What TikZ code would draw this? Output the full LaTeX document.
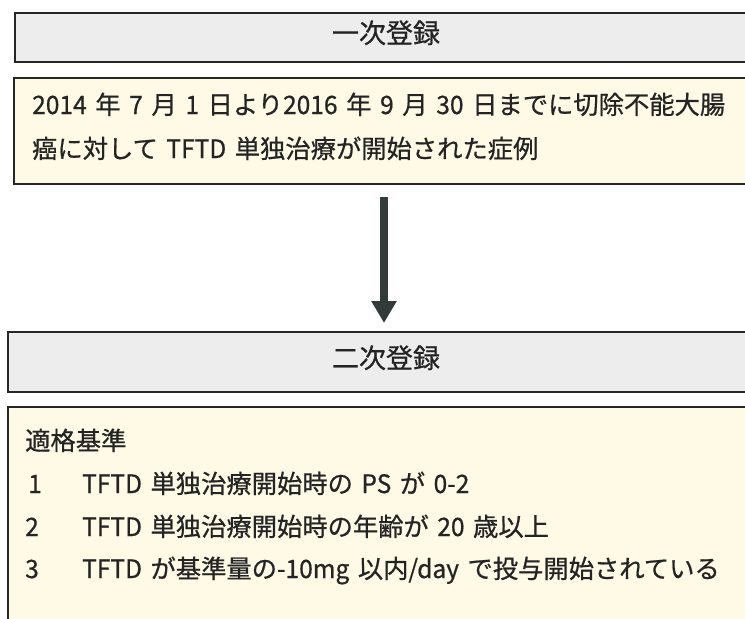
\documentclass[tikz,border=0pt]{standalone}
\usepackage{fontspec}
\setmainfont[FakeBold=0.7,WordSpace=1.5]{Noto Sans CJK JP}
\newfontfamily\latinfont[FakeBold=0.7,FakeStretch=0.97,WordSpace=1.5]{Noto Sans CJK JP}
\newcommand\lat[1]{{\latinfont #1}}
\usetikzlibrary{arrows.meta}
\definecolor{boxgray}{HTML}{EDEDED}
\definecolor{boxcream}{HTML}{FEFAE6}
\definecolor{edge}{HTML}{262626}
\definecolor{arrowc}{HTML}{333B3A}
\definecolor{txt}{HTML}{242424}
\begin{document}
\begin{tikzpicture}[x=1pt,y=-1pt,
  graybox/.style={draw=edge,line width=2.6pt,fill=boxgray},
  creambox/.style={draw=edge,line width=2.6pt,fill=boxcream},
  titletext/.style={anchor=base,inner sep=0pt,text=txt,font=\fontsize{27}{30}\selectfont},
  bodytext/.style={anchor=base west,inner sep=0pt,text=txt,font=\fontsize{25.3}{30}\selectfont},
  flowarrow/.style={draw=arrowc,line width=8pt,-{Triangle[width=24pt,length=22pt]}}]
\useasboundingbox (0,0) rectangle (745,619);
\fill[white] (0,0) rectangle (745,619);
% boxes
\draw[graybox] (15,13) rectangle (760,62);
\draw[creambox] (14,78) rectangle (760,184);
\draw[graybox] (8,332) rectangle (760,392);
\draw[creambox] (8,407) rectangle (760,640);
% texts
\node[titletext] (t1) at (386,43) {一次登録};
\node[bodytext] (l1) at (32,114) {\hbox to 693pt{\lat{2014} 年 \lat{7} 月 \lat{1} 日より\lat{2016} 年 \lat{9} 月 \lat{30} 日までに切除不能大腸}};
\node[bodytext] (l2) at (32,158) {癌に対して \lat{TFTD} 単独治療が開始された症例};
\node[titletext] (t2) at (386,368) {二次登録};
\node[bodytext] (h) at (25,450) {適格基準};
\node[bodytext] (n1) at (28,493) {\lat{1}};
\node[bodytext] (i1) at (82,493) {\lat{TFTD} 単独治療開始時の \lat{PS} が \lat{0-2}};
\node[bodytext] (n2) at (25,536) {\lat{2}};
\node[bodytext] (i2) at (82,536) {\lat{TFTD} 単独治療開始時の年齢が \lat{20} 歳以上};
\node[bodytext] (n3) at (25,578) {\lat{3}};
\node[bodytext] (i3) at (82,578) {\lat{TFTD} が基準量の\lat{-10mg} 以内\lat{/day} で投与開始されている};
% arrow
\coordinate (a1) at (384,197);
\coordinate (a2) at (384,323);
\draw[flowarrow] (a1) -- (a2);
\end{tikzpicture}
\end{document}
